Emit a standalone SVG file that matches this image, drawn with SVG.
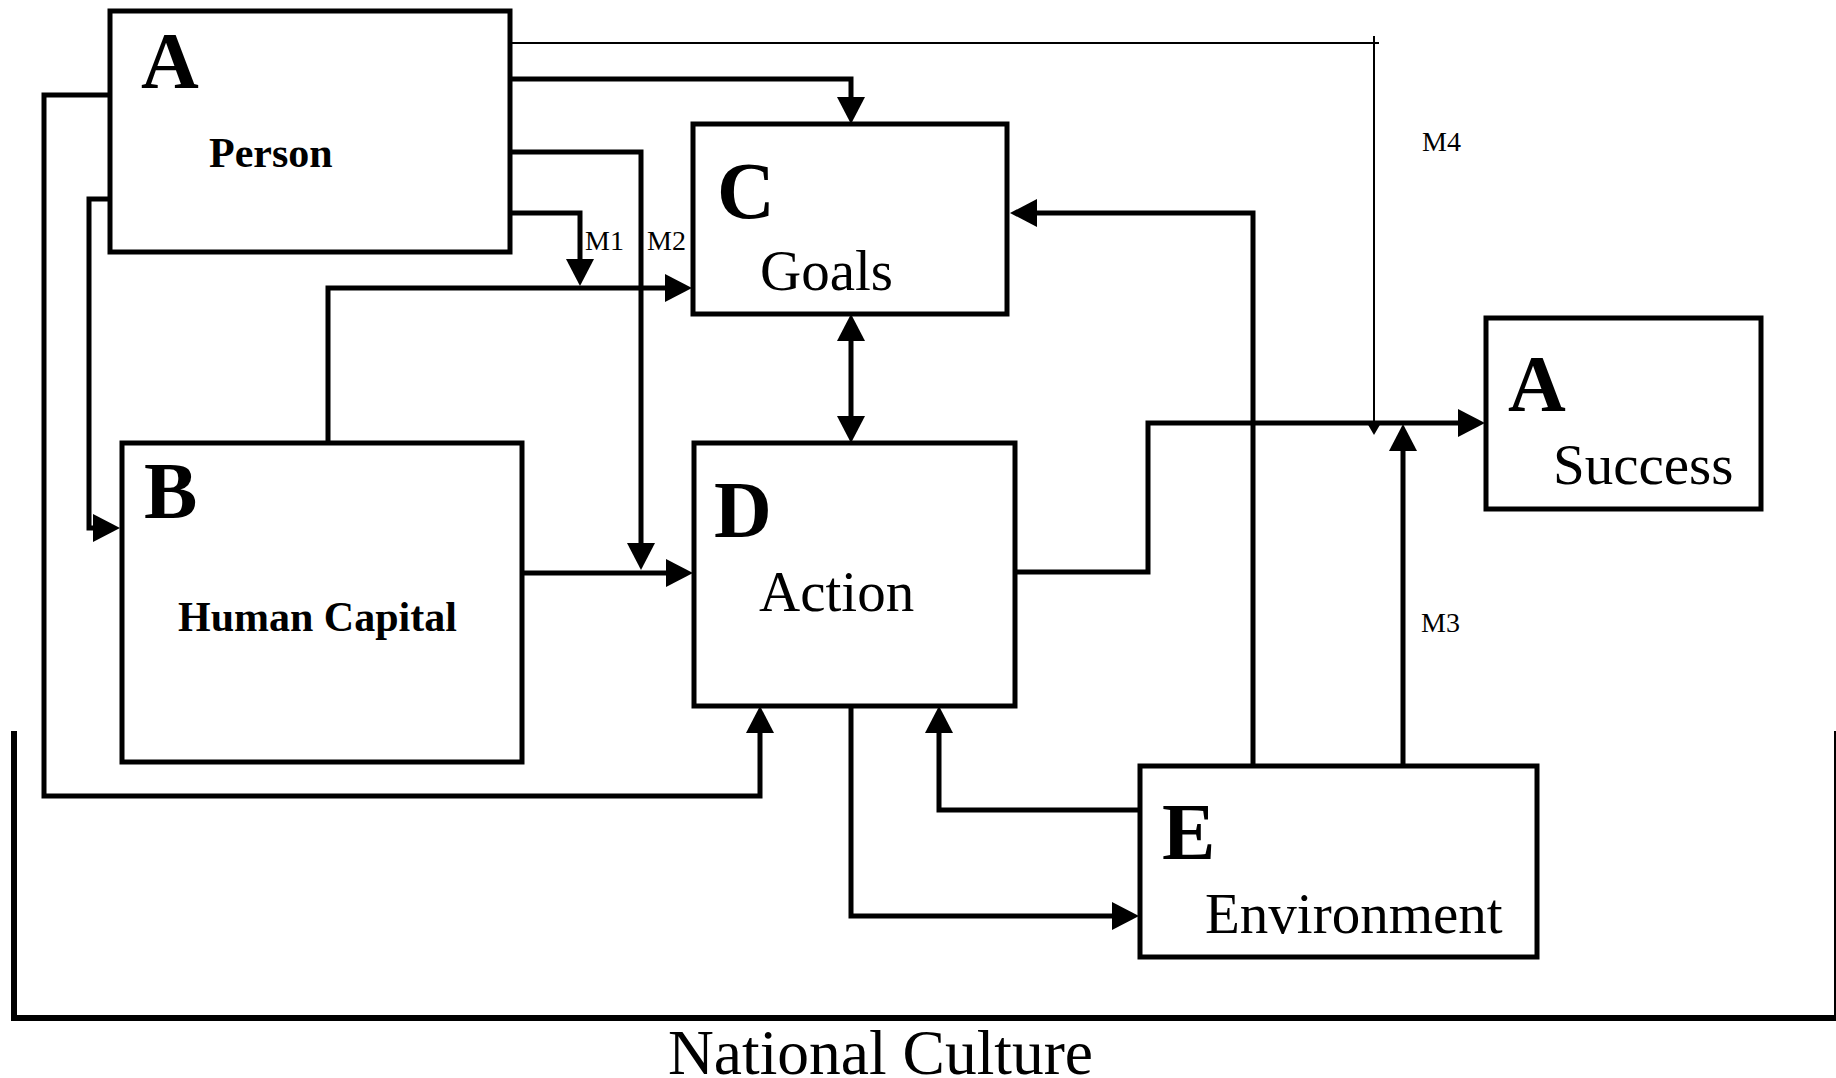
<svg xmlns="http://www.w3.org/2000/svg" width="1836" height="1078" viewBox="0 0 1836 1078">
  <style>
    .box { fill: #fff; stroke: #000; stroke-width: 5; }
    .wire { fill: none; stroke: #000; stroke-width: 5; stroke-linejoin: miter; }
    .thin { fill: none; stroke: #000; stroke-width: 2; }
    .big { font-family: "Liberation Serif", "Times New Roman", serif; font-weight: bold; font-size: 80px; fill: #000; }
    .boldname { font-family: "Liberation Serif", "Times New Roman", serif; font-weight: bold; font-size: 42px; fill: #000; }
    .name { font-family: "Liberation Serif", "Times New Roman", serif; font-size: 57px; fill: #000; }
    .mod { font-family: "Liberation Serif", "Times New Roman", serif; font-size: 28px; fill: #000; }
  </style>
  <defs>
    <marker id="ah" markerUnits="userSpaceOnUse" markerWidth="28" markerHeight="28" viewBox="0 0 28 28" refX="0" refY="14" orient="auto-start-reverse">
      <path d="M0,0 L27,14 L0,28 z" fill="#000"/>
    </marker>
    <marker id="ahs" markerUnits="userSpaceOnUse" markerWidth="14" markerHeight="14" viewBox="0 0 14 14" refX="0" refY="7" orient="auto">
      <path d="M0,0 L12,7 L0,14 z" fill="#000"/>
    </marker>
  </defs>

  <!-- National Culture frame -->
  <g id="national-culture">
    <path d="M14,731 V1018 H1836" fill="none" stroke="#000" stroke-width="6"/>
    <line x1="1835" y1="731" x2="1835" y2="1018" stroke="#000" stroke-width="2"/>
    <text x="668" y="1074" font-family="'Liberation Serif', 'Times New Roman', serif" font-size="64" textLength="425" lengthAdjust="spacingAndGlyphs">National Culture</text>
  </g>

  <!-- connectors -->
  <g id="connectors">
    <!-- M4: Person to the Action-Success link -->
    <path class="thin" d="M512,43 H1379"/>
    <path class="thin" d="M1374,36 V423" marker-end="url(#ahs)"/>
    <!-- Person to Goals -->
    <path class="wire" d="M512,79 H851 V97" marker-end="url(#ah)"/>
    <!-- Person, M2 onto Human Capital to Action -->
    <path class="wire" d="M512,152 H641 V543" marker-end="url(#ah)"/>
    <!-- Person, M1 onto Human Capital to Goals -->
    <path class="wire" d="M512,213 H580 V259" marker-end="url(#ah)"/>
    <!-- Human Capital to Goals -->
    <path class="wire" d="M328,443 V288 H665" marker-end="url(#ah)"/>
    <!-- Human Capital to Action -->
    <path class="wire" d="M522,573 H666" marker-end="url(#ah)"/>
    <!-- Person to Action (outer loop) -->
    <path class="wire" d="M118,95 H44 V796 H760 V733" marker-end="url(#ah)"/>
    <!-- Person to Human Capital -->
    <path class="wire" d="M118,199 H89 V528 H93" marker-end="url(#ah)"/>
    <!-- Goals and Action, both ways -->
    <path class="wire" d="M851,341 V416" marker-start="url(#ah)" marker-end="url(#ah)"/>
    <!-- Action to Success -->
    <path class="wire" d="M1015,572 H1148 V423 H1458" marker-end="url(#ah)"/>
    <!-- Environment to Goals -->
    <path class="wire" d="M1253,766 V213 H1037" marker-end="url(#ah)"/>
    <!-- M3: Environment onto the Action-Success link -->
    <path class="wire" d="M1403,766 V451" marker-end="url(#ah)"/>
    <!-- Environment to Action -->
    <path class="wire" d="M1140,810 H939 V733" marker-end="url(#ah)"/>
    <!-- Action to Environment -->
    <path class="wire" d="M851,706 V916 H1112" marker-end="url(#ah)"/>

    <text class="mod" x="585" y="250">M1</text>
    <text class="mod" x="647" y="250">M2</text>
    <text class="mod" x="1421" y="632">M3</text>
    <text class="mod" x="1422" y="151">M4</text>
  </g>

  <g id="person">
    <rect class="box" x="110" y="11" width="400" height="241"/>
    <text class="big" x="141" y="88">A</text>
    <text class="boldname" x="209" y="167">Person</text>
  </g>

  <g id="human-capital">
    <rect class="box" x="122" y="443" width="400" height="319"/>
    <text class="big" x="144" y="518">B</text>
    <text class="boldname" x="178" y="631">Human Capital</text>
  </g>

  <g id="goals">
    <rect class="box" x="693" y="124" width="314" height="190"/>
    <text class="big" x="717" y="218">C</text>
    <text class="name" x="760" y="290">Goals</text>
  </g>

  <g id="action">
    <rect class="box" x="694" y="443" width="321" height="263"/>
    <text class="big" x="714" y="537" font-size="78">D</text>
    <text class="name" x="759" y="611">Action</text>
  </g>

  <g id="environment">
    <rect class="box" x="1140" y="766" width="397" height="191"/>
    <text class="big" x="1162" y="859">E</text>
    <text class="name" x="1205" y="933" font-size="58">Environment</text>
  </g>

  <g id="success">
    <rect class="box" x="1486" y="318" width="275" height="191"/>
    <text class="big" x="1508" y="411">A</text>
    <text class="name" x="1553" y="484">Success</text>
  </g>
</svg>
